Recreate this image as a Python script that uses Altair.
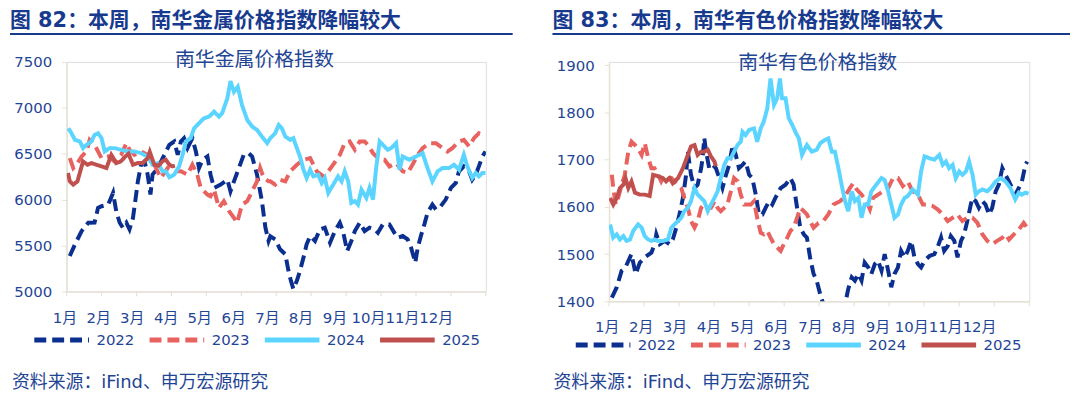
import json
import altair as alt
import pandas as pd

# ---------------- shared categories / labels ----------------
MONTHS = ["1月", "2月", "3月", "4月", "5月", "6月", "7月", "8月", "9月", "10月", "11月", "12月"]
YEARS = ["2022", "2023", "2024", "2025"]
COLORS = ["#0B2F8F", "#E8625F", "#5BD5FF", "#C0504D"]
DASHES = [[12, 6], [12, 6], [1, 0], [1, 0]]
MONTH_TICKS = list(range(13))
LABEL_POS = [-0.05, 0.92, 1.88, 2.85, 3.81, 4.78, 5.75, 6.71, 7.68, 8.64, 9.61, 10.58]

LEFT_HEADER = "图 82：本周，南华金属价格指数降幅较大"
LEFT_INNER = "南华金属价格指数"
LEFT_YTICKS = [5000, 5500, 6000, 6500, 7000, 7500]
RIGHT_HEADER = "图 83：本周，南华有色价格指数降幅较大"
RIGHT_INNER = "南华有色价格指数"
RIGHT_YTICKS = [1400, 1500, 1600, 1700, 1800, 1900]
SOURCE = "资料来源：iFind、申万宏源研究"

# ---------------- left panel: 南华金属价格指数 (x = month position) ----------------
L22_M = [0.09, 0.24, 0.43, 0.62, 0.80, 0.90, 1.0, 1.19, 1.33, 1.42, 1.52, 1.61, 1.71, 1.80, 1.90, 1.99, 2.04, 2.13, 2.23, 2.32,
         2.40, 2.46, 2.61, 2.80, 2.94, 3.08, 3.18, 3.27, 3.36, 3.46, 3.60, 3.70, 3.79, 3.89, 4.03, 4.12, 4.22, 4.41, 4.60, 4.69,
         4.79, 4.93, 5.07, 5.21, 5.31, 5.45, 5.59, 5.69, 5.78,
         5.83, 5.97, 6.11, 6.26, 6.35, 6.42, 6.49, 6.59, 6.68, 6.78, 6.87, 6.97, 7.11, 7.25, 7.39, 7.54, 7.68, 7.82, 7.91, 8.03,
         8.15, 8.25, 8.39, 8.53, 8.67, 8.82, 8.91, 9.05, 9.24, 9.38, 9.48, 9.62, 9.76, 9.86, 9.98, 10.05, 10.14, 10.24, 10.33, 10.47,
         10.57, 10.71, 10.85, 11.0, 11.14, 11.23, 11.37, 11.52, 11.61, 11.71, 11.80, 11.90, 11.99]
L22_V = [5386, 5513, 5657, 5748, 5750, 5910, 5928, 5946, 6073, 5874, 5748, 5694, 5748, 5676, 5802, 6055, 6199, 6380, 6416, 6272,
         6055, 6272, 6344, 6488, 6597, 6633, 6488, 6633, 6669, 6561, 6669, 6524, 6344, 6434, 6470, 6272, 6127, 6163, 6217, 6091,
         6199, 6344, 6488, 6506, 6470, 6272, 5983, 5694, 5549,
         5600, 5567, 5459, 5404, 5224, 5115, 5025, 5115, 5224, 5368, 5513, 5603, 5549, 5676, 5694, 5531, 5657, 5748, 5657, 5440,
         5549, 5657, 5748, 5657, 5694, 5676, 5639, 5730, 5730, 5639, 5585, 5603, 5567, 5477, 5314, 5477, 5603, 5730, 5856, 5946,
         5892, 5928, 6000, 6127, 6181, 6308, 6362, 6308, 6217, 6272, 6362, 6470, 6524]

L23_M = [0.09, 0.19, 0.28, 0.43, 0.57, 0.66, 0.80, 1.0, 1.19, 1.37, 1.56, 1.71, 1.80, 1.94, 2.13, 2.32, 2.51, 2.70, 2.89, 3.08,
         3.27, 3.46, 3.60, 3.74, 3.84, 4.03, 4.12, 4.22, 4.36, 4.50, 4.65, 4.79, 4.88, 5.02, 5.17, 5.31, 5.45, 5.54, 5.64, 5.78,
         5.83, 5.97, 6.11, 6.26, 6.40, 6.59, 6.78, 6.97, 7.16, 7.35, 7.49, 7.63, 7.82, 7.96, 8.10, 8.25, 8.39, 8.53, 8.62, 8.77,
         8.96, 9.10, 9.24, 9.43, 9.62, 9.76, 9.90, 10.05, 10.19, 10.38, 10.57, 10.76, 10.90, 11.04, 11.23, 11.37, 11.52, 11.66, 11.80, 11.95]
L23_V = [6452, 6344, 6380, 6470, 6524, 6651, 6597, 6452, 6470, 6416, 6488, 6615, 6543, 6488, 6524, 6488, 6380, 6236, 6344, 6308,
         6308, 6272, 6380, 6272, 6127, 6055, 6037, 6109, 5910, 5983, 5874, 5802, 5748, 5946, 5983, 6091, 6199, 6344, 6236, 6199,
         6199, 6163, 6217, 6199, 6308, 6380, 6434, 6452, 6308, 6253, 6308, 6380, 6488, 6615, 6633, 6543, 6633, 6633, 6597, 6506,
         6434, 6434, 6362, 6398, 6308, 6290, 6380, 6488, 6561, 6615, 6615, 6561, 6524, 6561, 6633, 6651, 6579, 6669, 6723, 6687]

L24_M = [0.05, 0.14, 0.24, 0.38, 0.47, 0.57, 0.71, 0.80, 0.90, 1.0, 1.09, 1.23, 1.37, 1.56, 1.75, 1.94, 2.13, 2.32, 2.46, 2.61,
         2.75, 2.84, 2.94, 3.08, 3.22, 3.32, 3.41, 3.55, 3.65, 3.79, 3.93, 4.08, 4.22, 4.36, 4.45, 4.60, 4.69, 4.79, 4.90, 5.02,
         5.17, 5.31, 5.45, 5.59, 5.74,
         5.83, 5.97, 6.07, 6.16, 6.26, 6.40, 6.49, 6.59, 6.68, 6.78, 6.87, 6.97, 7.06, 7.20, 7.30, 7.39, 7.49, 7.63, 7.77, 7.87,
         7.96, 8.06, 8.15, 8.25, 8.34, 8.44, 8.58, 8.67, 8.77, 8.86, 8.96, 9.05, 9.19, 9.29, 9.43, 9.53, 9.62, 9.81, 10.0, 10.19,
         10.33, 10.47, 10.62, 10.76, 10.95, 11.09, 11.23, 11.37, 11.47, 11.61, 11.71, 11.80, 11.90, 11.99]
L24_V = [6777, 6723, 6651, 6633, 6561, 6597, 6633, 6705, 6723, 6669, 6524, 6561, 6561, 6543, 6524, 6524, 6506, 6470, 6380, 6398,
         6308, 6308, 6243, 6272, 6362, 6488, 6633, 6669, 6777, 6832, 6886, 6904, 6958, 6904, 6940, 7103, 7290, 7175, 7229, 7030,
         6868, 6796, 6759, 6687, 6615,
         6669, 6723, 6813, 6777, 6687, 6651, 6669, 6561, 6470, 6326, 6236, 6326, 6253, 6272, 6181, 6236, 6073, 6163, 6253, 6199,
         6308, 6199, 5964, 5983, 5946, 6109, 6019, 6127, 6000, 6344, 6633, 6597, 6543, 6561, 6615, 6326, 6470, 6434, 6470, 6506,
         6344, 6199, 6308, 6344, 6344, 6380, 6326, 6488, 6362, 6236, 6290, 6253, 6290, 6290]

L25_M = [0.04, 0.09, 0.19, 0.31, 0.47, 0.60, 0.71, 0.85, 1.0, 1.14, 1.28, 1.42, 1.55, 1.68, 1.77, 1.90, 2.04, 2.18, 2.32, 2.38,
         2.51, 2.63, 2.75, 2.84, 2.94, 3.03, 3.10]
L25_V = [6290, 6200, 6163, 6199, 6416, 6380, 6398, 6380, 6362, 6344, 6488, 6398, 6416, 6470, 6500, 6380, 6398, 6398, 6450, 6520,
         6380, 6370, 6420, 6434, 6380, 6362, 6370]

# ---------------- right panel: 南华有色价格指数 ----------------
R22_M = [0.08, 0.22, 0.36, 0.47, 0.64, 0.76, 0.88, 1.02, 1.21, 1.30, 1.35, 1.45, 1.59, 1.73, 1.82, 1.92, 2.01, 2.11, 2.20, 2.25,
         2.34, 2.44, 2.53, 2.63, 2.67, 2.72, 2.77, 2.86, 2.96, 3.05, 3.15, 3.24, 3.34, 3.43, 3.53, 3.62, 3.71, 3.81, 3.90, 4.0,
         4.09, 4.19, 4.28, 4.38, 4.47, 4.57, 4.66, 4.75, 4.90, 5.04, 5.18, 5.27, 5.37, 5.46, 5.56,
         5.65, 5.74, 5.84, 5.93, 6.03, 6.12, 6.22, 6.41, 6.60, 6.74, 6.83, 6.93, 7.02, 7.12, 7.21, 7.30, 7.40, 7.49, 7.59, 7.68,
         7.78, 7.87, 7.97, 8.06, 8.15, 8.25, 8.34, 8.44, 8.53, 8.63, 8.72, 8.82, 8.91, 9.01, 9.15, 9.29, 9.38, 9.48, 9.57, 9.67,
         9.76, 9.86, 9.95, 10.05, 10.14, 10.23, 10.33, 10.38, 10.47, 10.56, 10.66, 10.75, 10.85, 10.94, 11.04, 11.13, 11.23, 11.32, 11.42, 11.51,
         11.60, 11.70, 11.79, 11.89, 11.94]
R22_V = [1408, 1430, 1465, 1472, 1500, 1458, 1482, 1493, 1503, 1521, 1542, 1521, 1528, 1521, 1531, 1556, 1584, 1619, 1668, 1717,
         1668, 1640, 1647, 1682, 1703, 1746, 1717, 1682, 1689, 1682, 1661, 1640, 1668, 1689, 1731, 1710, 1682, 1689, 1696, 1668,
         1661, 1626, 1584, 1584, 1598, 1612, 1605, 1619, 1640, 1647, 1661, 1647, 1598, 1556, 1542,
         1535, 1493, 1458, 1444, 1415, 1394, 1366, 1359, 1373, 1394, 1426, 1451, 1444, 1458, 1444, 1482, 1472, 1458, 1479, 1486,
         1465, 1500, 1465, 1430, 1458, 1472, 1507, 1493, 1507, 1528, 1493, 1479, 1472, 1486, 1496, 1500, 1514, 1535, 1507, 1517,
         1538, 1528, 1493, 1528, 1542, 1570, 1605, 1619, 1612, 1598, 1612, 1605, 1584, 1598, 1633, 1647, 1682, 1668, 1654, 1640,
         1626, 1640, 1654, 1689, 1696]

R23_M = [0.08, 0.12, 0.19, 0.26, 0.36, 0.45, 0.55, 0.64, 0.74, 0.83, 0.93, 1.02, 1.12, 1.21, 1.30, 1.40, 1.49, 1.59, 1.68, 1.78,
         1.87, 1.97, 2.06, 2.15, 2.25, 2.34, 2.44, 2.53, 2.63, 2.72, 2.82, 2.91, 3.01, 3.10, 3.19, 3.29, 3.38, 3.48, 3.57, 3.67,
         3.76, 3.86, 3.95, 4.05, 4.14, 4.23, 4.33, 4.42, 4.52, 4.61, 4.71, 4.80, 4.90, 4.99, 5.09, 5.18, 5.27, 5.37, 5.46, 5.56,
         5.65, 5.74, 5.84, 5.98, 6.12, 6.26, 6.41, 6.60, 6.74, 6.88, 6.97, 7.07, 7.21, 7.35, 7.45, 7.54, 7.68, 7.82, 7.97, 8.11,
         8.25, 8.39, 8.53, 8.67, 8.82, 8.96, 9.10, 9.24, 9.38, 9.53, 9.67, 9.81, 9.95, 10.09, 10.23, 10.38, 10.52, 10.66, 10.80, 10.94,
         11.08, 11.23, 11.32, 11.42, 11.56, 11.70, 11.84, 11.94]
R23_V = [1668, 1640, 1605, 1619, 1647, 1668, 1717, 1738, 1731, 1724, 1710, 1735, 1703, 1682, 1682, 1668, 1654, 1668, 1661, 1661,
         1654, 1647, 1640, 1619, 1598, 1570, 1556, 1570, 1598, 1605, 1598, 1598, 1612, 1598, 1591, 1598, 1605, 1633, 1661, 1654,
         1626, 1605, 1605, 1605, 1612, 1577, 1545, 1542, 1549, 1535, 1521, 1514, 1507, 1521, 1535, 1549, 1556, 1577, 1598, 1591,
         1584, 1570, 1556, 1566, 1570, 1584, 1605, 1612, 1623, 1640, 1650, 1637, 1626, 1612, 1595, 1619, 1626, 1633, 1640, 1661,
         1661, 1644, 1654, 1633, 1626, 1605, 1605, 1602, 1595, 1584, 1570, 1577, 1584, 1570, 1577, 1577, 1566, 1542, 1528, 1521,
         1528, 1535, 1542, 1531, 1542, 1552, 1566, 1556]

R24_M = [0.03, 0.12, 0.22, 0.31, 0.41, 0.50, 0.60, 0.69, 0.83, 0.93, 1.02, 1.12, 1.21, 1.30, 1.40, 1.54, 1.68, 1.78, 1.87, 1.97,
         2.06, 2.15, 2.25, 2.34, 2.44, 2.53, 2.63, 2.72, 2.82, 2.91, 3.01, 3.10, 3.19, 3.29, 3.38, 3.48, 3.57, 3.67, 3.76, 3.81,
         3.90, 4.0, 4.14, 4.23, 4.33, 4.42, 4.52, 4.61, 4.71, 4.80, 4.88, 4.94, 5.04, 5.13, 5.23, 5.32, 5.42, 5.51, 5.60,
         5.65, 5.79, 5.93, 6.03, 6.17, 6.26, 6.36, 6.45, 6.55, 6.64, 6.74, 6.83, 6.93, 7.02, 7.12, 7.21, 7.30, 7.40, 7.49, 7.63,
         7.78, 7.87, 7.97, 8.06, 8.15, 8.25, 8.34, 8.44, 8.53, 8.67, 8.82, 8.91, 9.01, 9.15, 9.29, 9.43, 9.53, 9.62, 9.71, 9.81,
         9.90, 10.0, 10.09, 10.19, 10.28, 10.38, 10.47, 10.56, 10.66, 10.80, 10.90, 11.04, 11.18, 11.32, 11.46, 11.60, 11.70, 11.79, 11.89, 11.98]
R24_V = [1563, 1535, 1542, 1531, 1538, 1528, 1531, 1549, 1563, 1556, 1538, 1531, 1528, 1531, 1528, 1528, 1531, 1556, 1563, 1570,
         1577, 1591, 1598, 1612, 1640, 1626, 1619, 1612, 1591, 1605, 1619, 1633, 1661, 1689, 1703, 1703, 1717, 1731, 1738, 1759,
         1752, 1763, 1766, 1738, 1766, 1781, 1809, 1872, 1816, 1830, 1872, 1830, 1830, 1788, 1774, 1759, 1745, 1710, 1724,
         1731, 1717, 1721, 1735, 1742, 1745, 1717, 1717, 1682, 1647, 1612, 1591, 1633, 1612, 1619, 1577, 1605, 1605, 1633, 1647,
         1661, 1657, 1633, 1605, 1577, 1584, 1605, 1619, 1623, 1637, 1626, 1675, 1707, 1703, 1700, 1710, 1689, 1696, 1682, 1689,
         1661, 1675, 1668, 1675, 1696, 1668, 1626, 1633, 1637, 1633, 1640, 1654, 1661, 1654, 1640, 1616, 1630, 1626, 1630, 1628]

R25_M = [0.03, 0.12, 0.22, 0.31, 0.41, 0.47, 0.55, 0.64, 0.74, 0.88, 1.02, 1.16, 1.26, 1.40, 1.54, 1.63, 1.73, 1.82, 1.97, 2.11,
         2.25, 2.34, 2.44, 2.53, 2.63, 2.72, 2.82, 2.91, 3.01, 3.05]
R25_V = [1619, 1605, 1619, 1640, 1647, 1661, 1640, 1654, 1630, 1626, 1626, 1623, 1668, 1665, 1661, 1654, 1661, 1650, 1661, 1682,
         1710, 1728, 1731, 1710, 1717, 1717, 1721, 1707, 1696, 1686]

# ---------------- styling ----------------
FONT = "DejaVu Sans, Noto Sans CJK SC, sans-serif"
HEAD_COLOR = "#173A8F"
TEXT_COLOR = "#1F4595"
AXIS_COLOR = "#E6E2D6"


def build_df(pairs):
    rows = []
    for year, ms, vs in pairs:
        assert len(ms) == len(vs), year
        for m, v in zip(ms, vs):
            rows.append({"m": m, "v": v, "year": year})
    return pd.DataFrame(rows)


def panel(df, header, inner, yticks, ydomain, w, h, inner_x, inner_y, line_x2, legend_x, legend_y,
          src_x, src_y, mlabel_dy):
    x_scale = alt.Scale(domain=[0, 12], nice=False, zero=False)
    y_scale = alt.Scale(domain=ydomain, nice=False, zero=False)
    legend = alt.Legend(orient="none", legendX=legend_x, legendY=legend_y, direction="horizontal",
                        columns=4, gridAlign="all",
                        title=None, symbolType="stroke", symbolSize=3025, symbolStrokeWidth=5,
                        labelFontSize=15, labelColor=TEXT_COLOR, labelOffset=5, columnPadding=4,
                        labelFont=FONT, labelLimit=60)
    lines = alt.Chart(df).mark_line(strokeWidth=4, clip=True, strokeCap="butt").encode(
        x=alt.X("m:Q", scale=x_scale,
                axis=alt.Axis(values=MONTH_TICKS, labels=False, ticks=False, grid=False, title=None,
                              domainColor=AXIS_COLOR, domainWidth=1.5)),
        y=alt.Y("v:Q", scale=y_scale,
                axis=alt.Axis(values=yticks, format="d", grid=False, title=None, tickSize=5, tickColor=AXIS_COLOR,
                              domainColor=AXIS_COLOR, domainWidth=1.5, labelFontSize=15, labelColor=TEXT_COLOR,
                              labelPadding=10, labelFont=FONT)),
        color=alt.Color("year:N", scale=alt.Scale(domain=YEARS, range=COLORS), legend=legend),
        strokeDash=alt.StrokeDash("year:N", scale=alt.Scale(domain=YEARS, range=DASHES), legend=legend),
    )
    ticks = alt.Chart(pd.DataFrame({"t": MONTH_TICKS})).mark_rule(color=AXIS_COLOR, strokeWidth=1.2).encode(
        x=alt.X("t:Q", scale=x_scale), y=alt.value(h), y2=alt.value(h + 5))
    mlabels = alt.Chart(pd.DataFrame({"p": LABEL_POS, "lab": MONTHS})).mark_text(
        align="center", baseline="middle", fontSize=15, color=TEXT_COLOR, font=FONT
    ).encode(x=alt.X("p:Q", scale=x_scale), y=alt.value(h + mlabel_dy), text="lab:N")
    head = alt.Chart(pd.DataFrame({"s": [header]})).mark_text(
        align="left", baseline="top", fontSize=21, fontWeight="bold", color=HEAD_COLOR, font=FONT
    ).encode(text="s:N", x=alt.value(-57), y=alt.value(-52))
    rule = alt.Chart(pd.DataFrame({"s": [header]})).mark_rule(color=HEAD_COLOR, strokeWidth=2).encode(
        x=alt.value(-57), x2=alt.value(line_x2), y=alt.value(-28))
    inner_t = alt.Chart(pd.DataFrame({"s": [inner]})).mark_text(
        align="center", baseline="middle", fontSize=20, color=TEXT_COLOR, font=FONT
    ).encode(text="s:N", x=alt.value(inner_x), y=alt.value(inner_y))
    src = alt.Chart(pd.DataFrame({"s": [SOURCE]})).mark_text(
        align="left", baseline="middle", fontSize=18, color=TEXT_COLOR, font=FONT
    ).encode(text="s:N", x=alt.value(src_x), y=alt.value(src_y))
    return alt.layer(ticks, lines, mlabels, head, rule, inner_t, src).properties(width=w, height=h)


left_df = build_df([("2022", L22_M, L22_V), ("2023", L23_M, L23_V), ("2024", L24_M, L24_V), ("2025", L25_M, L25_V)])
right_df = build_df([("2022", R22_M, R22_V), ("2023", R23_M, R23_V), ("2024", R24_M, R24_V), ("2025", R25_M, R25_V)])

left = panel(left_df, LEFT_HEADER, LEFT_INNER, LEFT_YTICKS, [5000, 7500], 422, 231,
             189, -2, 449, -35, 250, -55, 323, 27)
right = panel(right_df, RIGHT_HEADER, RIGHT_INNER, RIGHT_YTICKS, [1400, 1907], 423, 241,
              210, 1, 464, -36, 255, -56, 323, 26)

chart = alt.hconcat(left, right, spacing=124, bounds="flush").resolve_scale(
    color="independent", strokeDash="independent"
).properties(padding=0).configure_view(stroke=None).configure(font=FONT)

chart.save("out.html", embed_options={"renderer": "svg", "actions": False})
